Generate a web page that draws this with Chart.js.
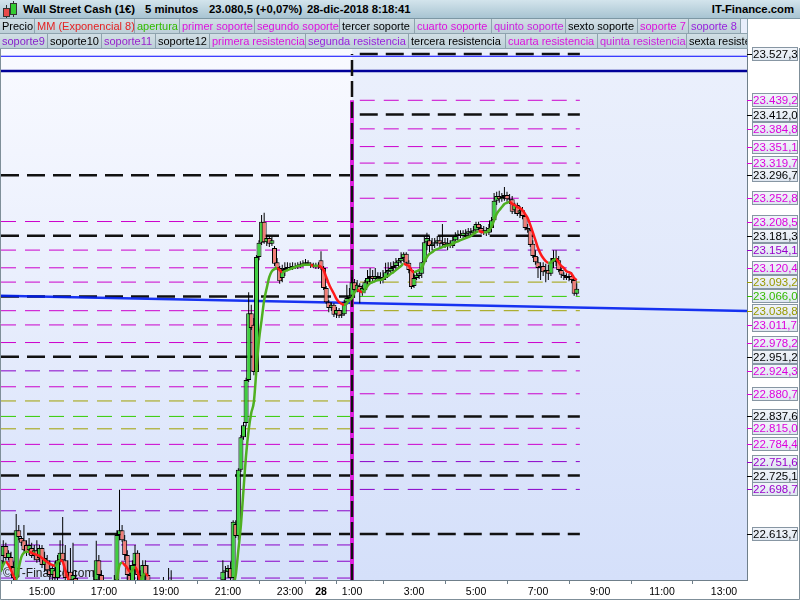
<!DOCTYPE html>
<html>
<head>
<meta charset="utf-8">
<script src="https://cdn.jsdelivr.net/npm/chart.js@4/dist/chart.umd.min.js"></script>
<style>
  body { margin: 0; background: #fff; }
  #wrap { position: relative; width: 800px; height: 600px; overflow: hidden; font-family: "Liberation Sans", Arial, sans-serif; }
  #c { position: absolute; left: 0; top: 0; }
  .title { position: absolute; left: 0; top: 0; width: 800px; height: 18px; background: linear-gradient(#d3e4ec, #a8c4d2); border-bottom: 1px solid #7d97a4; font-weight: bold; font-size: 11.3px; line-height: 19px; }
  .title span { position: absolute; top: 0; white-space: nowrap; }
  .row { position: absolute; left: 0; height: 15px; display: flex; }
  .row div { box-sizing: border-box; height: 15px; border-right: 1px solid #8ea3ae; border-bottom: 1px solid #8ea3ae; background: linear-gradient(#d2dfe5, #bccfd8); font-size: 11px; line-height: 14px; padding-left: 2px; white-space: nowrap; overflow: hidden; }
</style>
</head>
<body>
<div id="wrap">
  <canvas id="c" width="800" height="600"></canvas>
  <div class="title">
    <div style="position:absolute;left:6px;top:5px;width:1px;height:13px;background:#333"></div>
    <div style="position:absolute;left:3px;top:8px;width:5px;height:7px;background:#e84a4a;border:1px solid #333"></div>
    <div style="position:absolute;left:13px;top:1px;width:1px;height:16px;background:#333"></div>
    <div style="position:absolute;left:10px;top:3px;width:5px;height:10px;background:#3c3;border:1px solid #333"></div>
    <span style="left:23px">Wall Street Cash (1€)</span>
    <span style="left:145px">5 minutos</span>
    <span style="left:209px">23.080,5 (+0,07%)</span>
    <span style="left:307px">28-dic-2018 8:18:41</span>
    <span style="right:6px">IT-Finance.com</span>
  </div>
  <div class="row" style="top:19px">
    <div style="width:35px">Precio</div>
    <div style="width:100px;color:#e52222">MM (Exponencial 8)</div>
    <div style="width:45px;color:#33bb00">apertura</div>
    <div style="width:75px;color:#dd11dd">primer soporte</div>
    <div style="width:85px;color:#dd11dd">segundo soporte</div>
    <div style="width:75px;color:#000">tercer soporte</div>
    <div style="width:77px;color:#dd11dd">cuarto soporte</div>
    <div style="width:74px;color:#cc22dd">quinto soporte</div>
    <div style="width:72px;color:#000">sexto soporte</div>
    <div style="width:51px;color:#dd11dd">soporte 7</div>
    <div style="width:52px;color:#9922dd">soporte 8</div>
    <div style="width:7px;background:#e8eefb"></div>
  </div>
  <div class="row" style="top:34px">
    <div style="width:48px;color:#8822cc">soporte9</div>
    <div style="width:54px;color:#000">soporte10</div>
    <div style="width:54px;color:#9922cc">soporte11</div>
    <div style="width:54px;color:#000">soporte12</div>
    <div style="width:96px;color:#dd11dd">primera resistencia</div>
    <div style="width:103px;color:#9922dd">segunda resistencia</div>
    <div style="width:97px;color:#000">tercera resistencia</div>
    <div style="width:92px;color:#dd11dd">cuarta resistencia</div>
    <div style="width:89px;color:#cc22dd">quinta resistencia</div>
    <div style="width:61px;color:#000">sexta resistencia</div>
  </div>
</div>
<script>
// 5-minute bars, 27-dic 13:40 -> 28-dic 08:15
const barTimes = [
  '13:40','13:45','13:50','13:55','14:00','14:05','14:10','14:15','14:20','14:25','14:30','14:35','14:40','14:45','14:50','14:55',
  '15:00','15:05','15:10','15:15','15:20','15:25','15:30','15:35','15:40','15:45','15:50','15:55',
  '16:00','16:05','16:10','16:15','16:20','16:25','16:30','16:35','16:40','16:45','16:50','16:55',
  '17:00','17:05','17:10','17:15','17:20','17:25','17:30','17:35','17:40','17:45','17:50','17:55',
  '18:00','18:05','18:10','18:15','18:20','18:25',
  '18:55','19:05','19:10',
  '20:50','20:55',
  '21:00','21:05','21:10','21:15','21:20','21:25','21:30','21:35','21:40','21:45','21:50','21:55',
  '22:00','22:05','22:10','22:15','22:20','22:25','22:30','22:35','22:40','22:45','22:50','22:55',
  '23:00','23:05','23:10','23:15','23:20','23:25','23:30','23:35','23:40','23:45','23:50','23:55',
  '00:00','00:05','00:10','00:15','00:20','00:25','00:30','00:35','00:40','00:45','00:50','00:55',
  '01:00','01:05','01:10','01:15','01:20','01:25','01:30','01:35','01:40','01:45','01:50','01:55',
  '02:00','02:05','02:10','02:15','02:20','02:25','02:30','02:35','02:40','02:45','02:50','02:55',
  '03:00','03:05','03:10','03:15','03:20','03:25','03:30','03:35','03:40','03:45','03:50','03:55',
  '04:00','04:05','04:10','04:15','04:20','04:25','04:30','04:35','04:40','04:45','04:50','04:55',
  '05:00','05:05','05:10','05:15','05:20','05:25','05:30','05:35','05:40','05:45','05:50','05:55',
  '06:00','06:05','06:10','06:15','06:20','06:25','06:30','06:35','06:40','06:45','06:50','06:55',
  '07:00','07:05','07:10','07:15','07:20','07:25','07:30','07:35','07:40','07:45','07:50','07:55',
  '08:00','08:05','08:10','08:15'
];

const barOpen = [
  22545,22572,22591,22568,22570,22551,22530,22621,22606,22602,22593,22583,22587,22574,22583,22568,22587,22555,22564,22545,
  22536,22545,22530,22564,22578,22564,22530,22542,22526,22530,22507,22488,22479,22469,22479,22484,22488,22526,22564,22536,
  22507,22492,22484,22498,22498,22526,22612,22621,22602,22574,22536,22517,22555,22578,22536,22507,22555,22536,
  22498,22498,22503,
  22526,22542,22542,22549,22530,22633,22610,22736,22798,22825,22907,23034,23012,22922,23141,23168,23208,23169,23177,23166,
  23158,23131,23120,23101,23116,23120,23122,23120,23124,23122,23126,23128,23128,23131,23128,23124,23126,23122,23135,23120,
  23082,23055,23044,23050,23032,23040,23029,23032,23055,23063,
  23067,23093,23078,23086,23074,23078,23093,23101,23105,23099,23105,23101,23097,23101,23112,23114,23120,23124,23130,23133,
  23139,23147,23130,23116,23086,23101,23105,23109,23131,23169,23173,23162,23166,23168,23173,23166,23169,23164,23168,23162,
  23173,23181,23185,23181,23187,23185,23190,23187,23192,23204,23196,23188,23192,23187,23196,23211,23248,23257,23251,23255,
  23259,23251,23251,23230,23240,23225,23230,23219,23196,23192,23166,23143,23131,23120,23124,23112,23116,23109,23131,23139,
  23135,23116,23107,23105,23101,23105,23097,23071
];
const barHigh = [
  22574,22602,22597,22583,22580,22561,22652,22631,22610,22631,22602,22606,22597,22593,22602,22593,22593,22580,22574,22564,
  22555,22561,22574,22602,22646,22593,22564,22587,22597,22545,22517,22503,22498,22488,22496,22507,22545,22601,22574,22545,
  22522,22511,22507,22517,22536,22621,22698,22631,22612,22583,22555,22564,22593,22583,22545,22564,22564,22555,
  22532,22549,22545,
  22564,22553,22555,22561,22640,22640,22739,22802,22827,22911,23074,23050,23025,23145,23173,23221,23225,23183,23181,23179,
  23162,23139,23124,23126,23131,23131,23130,23131,23130,23131,23133,23135,23137,23135,23131,23130,23130,23131,23152,23124,
  23086,23059,23055,23053,23046,23044,23040,23059,23088,23082,
  23103,23099,23097,23091,23088,23097,23116,23120,23116,23120,23112,23112,23116,23130,23131,23131,23133,23139,23139,23150,
  23150,23150,23135,23120,23109,23112,23116,23131,23181,23187,23181,23177,23177,23181,23181,23204,23177,23177,23173,23179,
  23188,23192,23192,23192,23194,23196,23196,23200,23208,23208,23202,23200,23198,23204,23217,23263,23265,23267,23263,23274,
  23265,23261,23257,23244,23244,23238,23236,23223,23204,23196,23173,23154,23141,23131,23131,23128,23126,23139,23154,23154,
  23143,23120,23112,23110,23109,23112,23103,23091
];
const barLow = [
  22536,22553,22564,22564,22545,22522,22522,22602,22591,22580,22572,22574,22568,22564,22559,22561,22549,22542,22536,22522,
  22517,22517,22522,22555,22561,22522,22517,22507,22507,22488,22469,22469,22450,22450,22460,22469,22479,22517,22526,22488,
  22479,22473,22469,22479,22488,22517,22602,22599,22564,22526,22498,22507,22545,22526,22498,22498,22526,22498,
  22488,22488,22492,
  22507,22526,22530,22522,22526,22606,22602,22732,22793,22819,22903,23002,22916,22918,23135,23164,23166,23162,23160,23162,
  23124,23116,23090,23093,23105,23114,23116,23116,23118,23118,23120,23122,23124,23124,23120,23120,23118,23118,23116,23078,
  23052,23036,23038,23027,23025,23025,23025,23029,23050,23059,
  23059,23063,23074,23053,23067,23072,23088,23093,23093,23095,23095,23090,23091,23097,23105,23109,23112,23116,23120,23128,
  23131,23124,23110,23080,23082,23097,23099,23101,23128,23154,23150,23154,23158,23162,23158,23162,23158,23154,23158,23158,
  23169,23173,23177,23177,23179,23181,23181,23183,23188,23192,23185,23183,23181,23183,23188,23208,23240,23244,23246,23248,
  23246,23242,23223,23223,23219,23215,23213,23192,23187,23160,23139,23126,23101,23097,23105,23093,23097,23105,23120,23124,
  23112,23101,23097,23097,23095,23091,23067,23067
];
const barClose = [
  22564,22591,22568,22578,22551,22530,22621,22608,22597,22583,22578,22593,22572,22583,22564,22587,22555,22568,22545,22536,
  22549,22530,22564,22578,22564,22530,22542,22526,22536,22507,22488,22479,22469,22479,22484,22488,22526,22564,22536,22507,
  22492,22484,22498,22496,22526,22612,22621,22602,22574,22536,22517,22555,22578,22536,22507,22555,22536,22517,
  22492,22507,22498,
  22542,22545,22549,22530,22637,22610,22736,22798,22821,22907,23034,23006,22922,23141,23168,23208,23169,23177,23166,23173,
  23128,23120,23095,23116,23120,23122,23120,23124,23122,23126,23128,23130,23131,23128,23124,23126,23122,23126,23120,23082,
  23055,23044,23050,23031,23040,23029,23032,23055,23063,23067,
  23093,23078,23088,23074,23082,23093,23101,23105,23099,23105,23101,23097,23103,23112,23116,23120,23124,23131,23135,23139,
  23147,23130,23116,23084,23101,23107,23110,23131,23169,23177,23162,23166,23169,23173,23166,23169,23164,23168,23162,23173,
  23181,23185,23181,23187,23185,23190,23187,23192,23204,23196,23188,23192,23187,23196,23211,23248,23257,23251,23255,23259,
  23251,23249,23227,23240,23223,23230,23219,23196,23192,23164,23143,23131,23120,23124,23112,23116,23109,23131,23139,23135,
  23116,23107,23105,23101,23105,23097,23071,23080.5
];
// MM (Exponencial 8)
const ema8 = [
  22542,22555,22561,22555,22545,22534,22526,22549,22570,22578,22580,22580,22578,22576,22574,22572,22568,22564,22561,22557,
  22555,22553,22559,22564,22561,22545,22530,22517,22507,22498,22488,22484,22479,22475,22473,22473,22481,22498,22503,22502,
  22496,22492,22488,22488,22492,22526,22555,22559,22555,22549,22542,22545,22551,22542,22526,22534,22538,22534,
  null,null,null,
  22496,22503,22507,22511,22517,22536,22583,22631,22698,22764,22812,22844,22865,22926,22983,23021,23059,23082,23103,23114,
  23118,23120,23116,23112,23114,23116,23118,23120,23122,23124,23124,23126,23126,23126,23126,23124,23124,23124,23122,23116,
  23103,23090,23080,23071,23061,23055,23052,23050,23053,23059,
  23063,23074,23078,23076,23074,23078,23086,23091,23093,23095,23097,23097,23099,23103,23105,23109,23112,23116,23120,23124,
  23128,23126,23124,23116,23112,23114,23116,23120,23131,23141,23147,23150,23154,23156,23158,23160,23162,23163,23164,23166,
  23169,23171,23173,23175,23177,23179,23181,23185,23188,23190,23189,23188,23188,23192,23198,23211,23223,23230,23236,23242,
  23244,23246,23242,23240,23236,23234,23230,23223,23215,23202,23188,23173,23158,23147,23139,23133,23130,23131,23135,23137,
  23131,23124,23120,23114,23112,23109,23101,23097
];

// support / resistance levels of the previous session (27-dic)
const prevLevelValues = [23296.7,23208.5,23181.3,23154.1,23120.4,23093.2,23066.0,23038.8,23011.7,22978.2,22951.2,22924.3,22894.0,
  22867.0,22837.6,22814.0,22784.4,22751.6,22725.1,22698.7,22658.0,22613.7,22593.0,22562.0,22530.0];
const prevLevelKinds = ['black','magenta','black','magenta','magenta','magenta','black','magenta','magenta','magenta','black','purple','magenta',
  'olive','green','olive','magenta','magenta','black','magenta','purple','black','purple','purple','purple'];

// levels of the current session (28-dic), labelled on the right axis
const levelValues = [23527.3,23439.2,23412.0,23384.8,23351.1,23319.7,23296.7,23252.8,23208.5,23181.3,23154.1,23120.4,23093.2,
  23066.0,23038.8,23011.7,22978.2,22951.2,22924.3,22880.7,22837.6,22815.0,22784.4,22751.6,22725.1,22698.7,22613.7];
const levelKinds = ['black','magenta','black','magenta','magenta','magenta','black','magenta','magenta','black','purple','magenta','olive',
  'green','olive','magenta','magenta','black','magenta','magenta','black','magenta','magenta','purple','black','purple','black'];

// blue channel lines
const channelTop = 23523;
const channelMid = 23495;
const regression = [23067, 23038];

// x axis: hours from 27-dic 00:00
const xMin = 13.677, xMax = 37.742;
const prevLevelsEnd = 24.94, levelsStart = 25.25, levelsEnd = 32.35;
const dayBreak = 25;
const xTickHours = [15, 17, 19, 21, 23, 24, 25, 27, 29, 31, 33, 35, 37];
const xTickLabels = ['15:00','17:00','19:00','21:00','23:00','28','1:00','3:00','5:00','7:00','9:00','11:00','13:00'];
const yMin = 22526.3, yMax = 23536.8;

const FONT = '"Liberation Sans", Arial, sans-serif';
const kindColor = { black: '#111', magenta: '#cc00cc', purple: '#8a00c8', olive: '#a0a000', green: '#33cc00' };
const labelColor = { black: '#000', magenta: '#dd00dd', purple: '#9900cc', olive: '#999900', green: '#33bb00' };

function toHours(list) {
  let day = 0, prev = -1;
  return list.map(s => {
    const [h, m] = s.split(':').map(Number);
    const v = h + m / 60;
    if (v < prev) day += 24;
    prev = v;
    return v + day;
  });
}

function fmt(v) {
  const [i, d] = v.toFixed(1).split('.');
  return i.replace(/\B(?=(\d{3})+(?!\d))/g, '.') + ',' + d;
}

function levelSets(values, kinds, x0, x1) {
  return values.map((v, i) => {
    const k = kinds[i];
    return {
      type: 'line',
      data: [{ x: x0, y: v }, { x: x1, y: v }],
      borderColor: kindColor[k],
      borderWidth: k === 'black' ? 2.5 : 1,
      borderDash: k === 'black' ? [18, 8] : [15, 9],
      pointRadius: 0, fill: false, order: 7, clip: 0
    };
  });
}

const t = toHours(barTimes);
const wickData = t.map((x, i) => ({ x, y: [barLow[i], barHigh[i]] }));
const bodyData = t.map((x, i) => ({ x, y: [barOpen[i], barClose[i]] }));
const emaData = t.map((x, i) => ({ x, y: ema8[i] }));
const bodyColors = barOpen.map((o, i) => barClose[i] >= o ? '#3fcf3f' : '#f07c76');

const decor = {
  id: 'decor',
  beforeDraw(chart) {
    const { ctx, chartArea: a, scales: { x } } = chart;
    ctx.save();
    let g = ctx.createLinearGradient(0, a.top, 0, a.bottom);
    g.addColorStop(0, '#f9faff');
    g.addColorStop(1, '#d5e0fa');
    ctx.fillStyle = g;
    ctx.fillRect(a.left, a.top, a.right - a.left, a.bottom - a.top);
    const xd = x.getPixelForValue(dayBreak);
    g = ctx.createLinearGradient(0, a.top, 0, a.bottom);
    g.addColorStop(0, '#ebf0fc');
    g.addColorStop(1, '#d5e0fa');
    ctx.fillStyle = g;
    ctx.fillRect(xd, a.top, a.right - xd, a.bottom - a.top);
    ctx.restore();
  },
  beforeDatasetsDraw(chart) {
    const { ctx, chartArea: a } = chart;
    ctx.save();
    ctx.font = '12px ' + FONT;
    ctx.fillStyle = '#222';
    ctx.textBaseline = 'alphabetic';
    ctx.fillText('©IT-Finance.com', a.left + 2, a.bottom - 3);
    ctx.restore();
  },
  afterDraw(chart) {
    const { ctx, chartArea: a, scales: { y } } = chart;
    ctx.save();
    // right axis labels
    ctx.font = '11.5px ' + FONT;
    ctx.textBaseline = 'middle';
    const bx = a.right + 5;
    levelValues.forEach((v, i) => {
      const py = Math.round(y.getPixelForValue(v));
      const col = labelColor[levelKinds[i]];
      const g = ctx.createLinearGradient(0, py - 7, 0, py + 7);
      g.addColorStop(0, '#f3f6fb');
      g.addColorStop(1, '#dde5ef');
      ctx.fillStyle = g;
      ctx.fillRect(bx, py - 7, 46, 14);
      ctx.strokeStyle = '#8796a3';
      ctx.lineWidth = 1;
      ctx.strokeRect(bx + 0.5, py - 6.5, 45, 13);
      ctx.strokeStyle = col;
      ctx.beginPath();
      ctx.moveTo(a.right, py + 0.5);
      ctx.lineTo(bx, py + 0.5);
      ctx.stroke();
      ctx.fillStyle = col;
      ctx.fillText(fmt(v), bx + 1, py + 1);
    });
    // outer frame
    ctx.strokeStyle = '#7f8f99';
    ctx.lineWidth = 1;
    ctx.beginPath();
    ctx.moveTo(0.5, a.top - 1);
    ctx.lineTo(0.5, 599.5);
    ctx.lineTo(799.5, 599.5);
    ctx.lineTo(799.5, a.top - 1);
    ctx.stroke();
    ctx.restore();
  }
};

new Chart(document.getElementById('c'), {
  type: 'bar',
  data: {
    datasets: [
      {
        type: 'line', data: emaData, borderColor: '#4fb021', borderWidth: 2.5,
        segment: { borderColor: c => c.p1.parsed.y < c.p0.parsed.y ? '#ff1a1a' : '#4fb021' },
        pointRadius: 0, cubicInterpolationMode: 'monotone', spanGaps: false, fill: false, order: 1, clip: 0
      },
      {
        type: 'bar', data: bodyData, backgroundColor: bodyColors, borderColor: '#000', borderWidth: 1,
        borderSkipped: false, barThickness: 5, inflateAmount: 0, grouped: false, order: 2, clip: 0
      },
      {
        type: 'bar', data: wickData, backgroundColor: '#000', borderWidth: 0,
        barThickness: 1, inflateAmount: 0, grouped: false, order: 3, clip: 0
      },
      {
        type: 'line', data: [{ x: dayBreak, y: yMin }, { x: dayBreak, y: levelValues[0] }],
        borderColor: '#111', borderWidth: 2.5, borderDash: [16, 5], pointRadius: 0, order: 4, clip: 0
      },
      {
        type: 'line', data: [{ x: dayBreak, y: yMin }, { x: dayBreak, y: levelValues[1] }],
        borderColor: '#dd22dd', borderWidth: 4, pointRadius: 0, order: 5, clip: 0
      },
      {
        type: 'line', data: [{ x: xMin, y: channelTop }, { x: xMax, y: channelTop }],
        borderColor: '#0000ff', borderWidth: 1, pointRadius: 0, order: 6, clip: 0
      },
      {
        type: 'line', data: [{ x: xMin, y: channelMid }, { x: xMax, y: channelMid }],
        borderColor: '#000099', borderWidth: 2.5, pointRadius: 0, order: 6, clip: 0
      },
      {
        type: 'line', data: [{ x: xMin, y: regression[0] }, { x: xMax, y: regression[1] }],
        borderColor: 'rgba(0, 30, 240, 0.9)', borderWidth: 2.5, pointRadius: 0, order: 6, clip: 0
      },
      ...levelSets(prevLevelValues, prevLevelKinds, xMin, prevLevelsEnd),
      ...levelSets(levelValues, levelKinds, levelsStart, levelsEnd)
    ]
  },
  options: {
    responsive: false,
    animation: false,
    events: [],
    layout: { padding: { top: 49, left: 1, right: 0, bottom: 0 } },
    plugins: { legend: { display: false }, tooltip: { enabled: false } },
    scales: {
      x: {
        type: 'linear', position: 'bottom', min: xMin, max: xMax, offset: false,
        grid: { drawOnChartArea: false, drawTicks: true, tickLength: 4, color: '#6f7f8a' },
        border: { color: '#6f7f8a' },
        afterBuildTicks: s => { s.ticks = xTickHours.map(v => ({ value: v })); },
        afterFit: s => { s.height = 20; },
        ticks: {
          autoSkip: false, maxRotation: 0, padding: 2, color: '#000',
          font: c => ({ family: FONT, size: 10.5, weight: c.tick && c.tick.value === 24 ? 'bold' : 'normal' }),
          callback: v => xTickLabels[xTickHours.indexOf(v)]
        }
      },
      y: {
        type: 'linear', position: 'right', min: yMin, max: yMax,
        grid: { drawOnChartArea: false, drawTicks: false },
        border: { color: '#6f7f8a' },
        ticks: { display: false },
        afterFit: s => { s.width = 53; }
      }
    }
  },
  plugins: [decor]
});
</script>
</body>
</html>
